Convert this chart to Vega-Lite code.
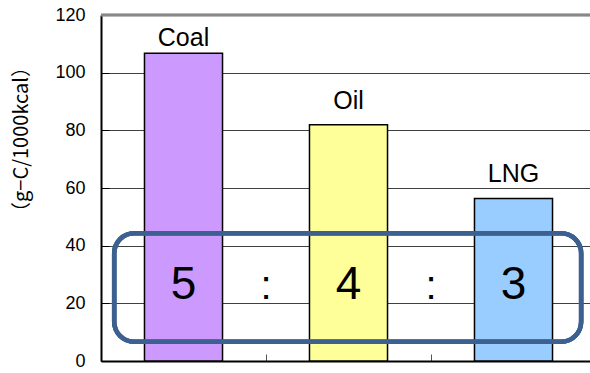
{
  "$schema": "https://vega.github.io/schema/vega-lite/v6.json",
  "width": 489,
  "height": 346,
  "autosize": {"type": "none"},
  "padding": {"left": 101, "top": 15, "right": 0, "bottom": 12},
  "background": "white",
  "config": {
    "view": {"stroke": null},
    "font": "Liberation Sans",
    "axis": {"labelFont": "Liberation Sans", "titleFont": "Liberation Sans"}
  },
  "datasets": {
    "fuels": [
      {"fuel": "Coal", "value": 106.7, "ratio": "5"},
      {"fuel": "Oil", "value": 81.9, "ratio": "4"},
      {"fuel": "LNG", "value": 56.4, "ratio": "3"}
    ]
  },
  "data": {"name": "fuels"},
  "resolve": {"scale": {"x": "independent"}},
  "layer": [
    {
      "layer": [
        {
          "mark": {"type": "bar", "stroke": "black", "strokeWidth": 1.5, "width": {"band": 0.473}},
          "encoding": {
            "x": {
              "field": "fuel", "type": "nominal", "sort": ["Coal", "Oil", "LNG"],
              "scale": {"range": [0, 495], "paddingInner": 0, "paddingOuter": 0},
              "axis": {
                "title": null, "labels": false, "grid": false,
                "domainColor": "black", "domainWidth": 2,
                "tickColor": "#555", "tickSize": -7, "tickWidth": 1, "bandPosition": 0
              }
            },
            "y": {
              "field": "value", "type": "quantitative",
              "scale": {"domain": [0, 120], "nice": false},
              "axis": {
                "values": [0, 20, 40, 60, 80, 100, 120],
                "title": "（g−C/1000kcal）",
                "titleFont": "Noto Sans CJK JP",
                "titleFontSize": 20, "titleFontWeight": "normal", "titleColor": "black",
                "titleX": -80, "titleY": 124, "titleAngle": -90,
                "titleAlign": "center", "titleBaseline": "middle",
                "labelFontSize": 18, "labelColor": "black", "labelPadding": 24,
                "domainColor": "black", "domainWidth": 2,
                "tickColor": "black", "tickSize": -8, "tickWidth": 1,
                "grid": true, "gridColor": "#404040", "gridWidth": 1, "gridOpacity": 1
              }
            },
            "color": {
              "field": "fuel", "type": "nominal", "legend": null,
              "scale": {"domain": ["Coal", "Oil", "LNG"], "range": ["#CC99FF", "#FFFF99", "#99CCFF"]}
            }
          }
        },
        {
          "mark": {"type": "rule", "color": "#888", "strokeWidth": 2.5},
          "encoding": {"y": {"datum": 120, "type": "quantitative"}}
        },
        {
          "transform": [{"filter": "datum.fuel === 'Coal'"}],
          "mark": {"type": "text", "fontSize": 25, "baseline": "alphabetic", "dy": -7.5, "color": "black"},
          "encoding": {
            "x": {"field": "fuel", "type": "nominal", "sort": ["Coal", "Oil", "LNG"]},
            "y": {"field": "value", "type": "quantitative"},
            "text": {"field": "fuel"}
          }
        },
        {
          "transform": [{"filter": "datum.fuel !== 'Coal'"}],
          "mark": {"type": "text", "fontSize": 25, "baseline": "alphabetic", "dy": -16, "color": "black"},
          "encoding": {
            "x": {"field": "fuel", "type": "nominal", "sort": ["Coal", "Oil", "LNG"]},
            "y": {"field": "value", "type": "quantitative"},
            "text": {"field": "fuel"}
          }
        },
        {
          "mark": {"type": "text", "fontSize": 46, "baseline": "middle", "color": "black"},
          "encoding": {
            "x": {"field": "fuel", "type": "nominal", "sort": ["Coal", "Oil", "LNG"]},
            "y": {"datum": 26.4, "type": "quantitative"},
            "text": {"field": "ratio"}
          }
        },
        {
          "transform": [{"filter": "datum.fuel !== 'Coal'"}],
          "mark": {"type": "text", "fontSize": 40, "baseline": "middle", "color": "black", "dy": 2},
          "encoding": {
            "x": {"field": "fuel", "type": "nominal", "sort": ["Coal", "Oil", "LNG"], "bandPosition": 0},
            "y": {"datum": 26.4, "type": "quantitative"},
            "text": {"value": ":"}
          }
        }
      ]
    },
    {
      "mark": {"type": "rect", "fill": null, "stroke": "#3C6090", "strokeWidth": 4.5, "cornerRadius": 20},
      "encoding": {
        "x": {"datum": 0.08, "type": "quantitative", "scale": {"domain": [0, 3], "range": [0, 495], "nice": false, "zero": false}, "axis": null},
        "x2": {"datum": 2.91},
        "y": {"datum": 44.3, "type": "quantitative"},
        "y2": {"datum": 6.7}
      }
    }
  ]
}
